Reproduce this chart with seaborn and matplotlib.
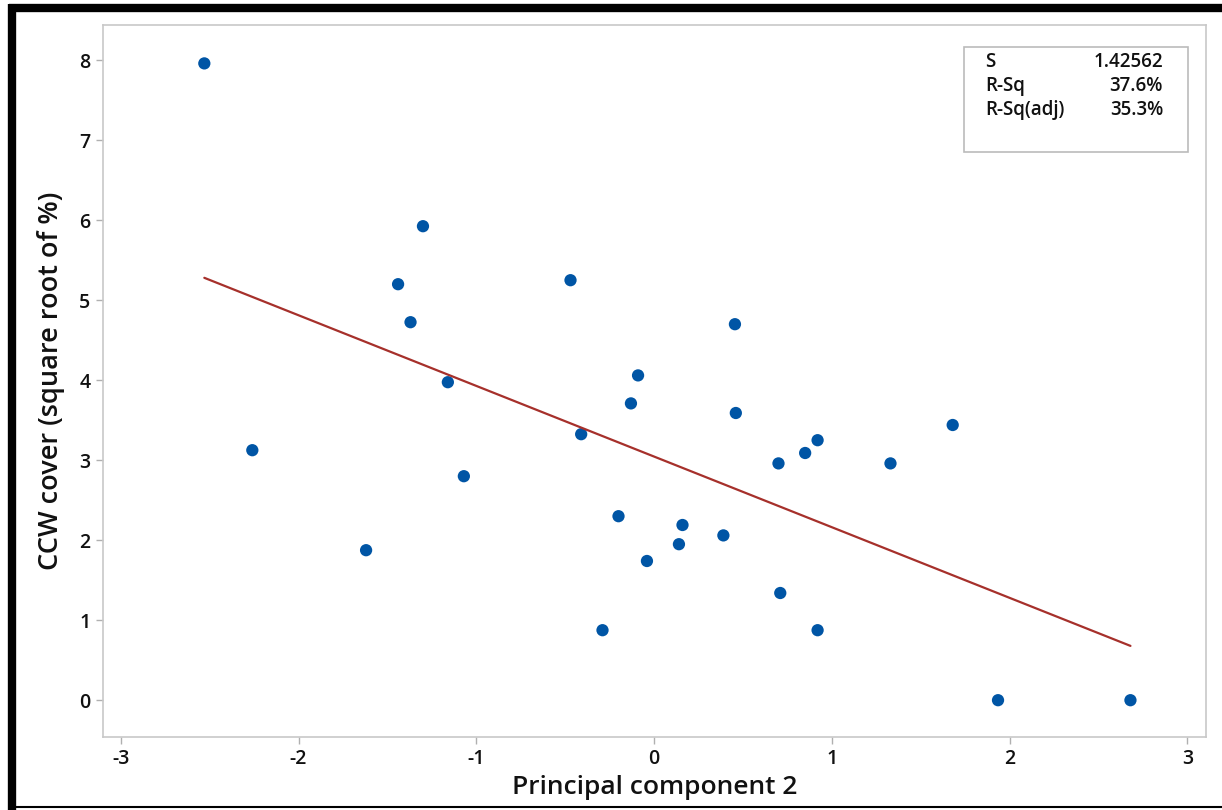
import matplotlib
matplotlib.use("Agg")
import matplotlib.pyplot as plt
import seaborn as sns
import pandas as pd
from matplotlib.patches import Rectangle

pc2 = [-2.53, -2.26, -1.62, -1.44, -1.37, -1.30, -1.16, -1.07, -0.47, -0.41,
       -0.29, -0.20, -0.13, -0.09, -0.04, 0.14, 0.16, 0.39, 0.455, 0.46,
       0.70, 0.71, 0.85, 0.92, 0.92, 1.33, 1.68, 1.935, 2.68]
ccw = [7.96, 3.125, 1.875, 5.2, 4.725, 5.925, 3.975, 2.8, 5.25, 3.325,
       0.875, 2.3, 3.71, 4.06, 1.74, 1.95, 2.19, 2.06, 4.7, 3.59,
       2.96, 1.34, 3.09, 3.25, 0.875, 2.96, 3.44, 0.0, 0.0]
stat_names = ["S", "R-Sq", "R-Sq(adj)"]
stat_values = ["1.42562", "37.6%", "35.3%"]
x_ticks = [-3, -2, -1, 0, 1, 2, 3]
y_ticks = [0, 1, 2, 3, 4, 5, 6, 7, 8]

df = pd.DataFrame({"pc2": pc2, "ccw": ccw})

sns.set_theme(style="white")
plt.rcParams["font.family"] = ["Open Sans", "DejaVu Sans"]

fig = plt.figure(figsize=(12.22, 8.10), dpi=100)
W, H = 1222, 810
ax = fig.add_axes([103 / W, 1 - 737 / H, (1206 - 103) / W, (737 - 25) / H])

sns.regplot(data=df, x="pc2", y="ccw", ax=ax, ci=None, truncate=True,
            scatter_kws=dict(color="#0055A5", s=78, edgecolor="none", alpha=1),
            line_kws=dict(color="#A6302B", lw=1.6))

ax.set_xlim(-3.10, 3.105)
ax.set_ylim(-0.46, 8.44)
ax.set_xticks(x_ticks)
ax.set_yticks(y_ticks)
ax.set_xticklabels([str(t) for t in x_ticks], fontsize=14, fontweight="semibold")
ax.set_yticklabels([str(t) for t in y_ticks], fontsize=14, fontweight="semibold")
for s in ax.spines.values():
    s.set_color("#C8C8C8")
    s.set_linewidth(1.2)
ax.tick_params(axis="both", length=5, width=1, color="#B0B0B0", pad=4,
               bottom=True, left=True, labelcolor="#111111")
ax.set_xlabel("Principal component 2", fontsize=19, fontweight="semibold",
              color="#111111", labelpad=4)
ax.set_ylabel("CCW cover (square root of %)", fontsize=19.5, fontweight="semibold",
              color="#111111", labelpad=10)

# stats box
bx0, by0, bx1, by1 = 964, 47, 1188, 152
fig.patches.append(Rectangle((bx0 / W, 1 - by1 / H), (bx1 - bx0) / W, (by1 - by0) / H,
                             transform=fig.transFigure, facecolor="white",
                             edgecolor="#BBBBBB", lw=1.2, zorder=5))
row_y = [62, 86, 110]
for n, v, yy in zip(stat_names, stat_values, row_y):
    fig.text(985 / W, 1 - yy / H, n, fontsize=13.5, fontweight="semibold",
             va="center", ha="left", color="#111111", zorder=6)
    fig.text(1163 / W, 1 - yy / H, v, fontsize=13.5, fontweight="semibold",
             va="center", ha="right", color="#111111", zorder=6)

# figure frame
fig.add_artist(plt.Line2D([12 / W, 12 / W], [0, 1 - 4 / H], transform=fig.transFigure,
                          color="black", lw=6, solid_capstyle="butt"))
fig.add_artist(plt.Line2D([9 / W, 1], [1 - 7.5 / H, 1 - 7.5 / H], transform=fig.transFigure,
                          color="black", lw=6, solid_capstyle="butt"))
fig.add_artist(plt.Line2D([9 / W, 1], [1 - 807 / H, 1 - 807 / H], transform=fig.transFigure,
                          color="black", lw=1.5, solid_capstyle="butt"))

fig.savefig("out.png", dpi=100)
